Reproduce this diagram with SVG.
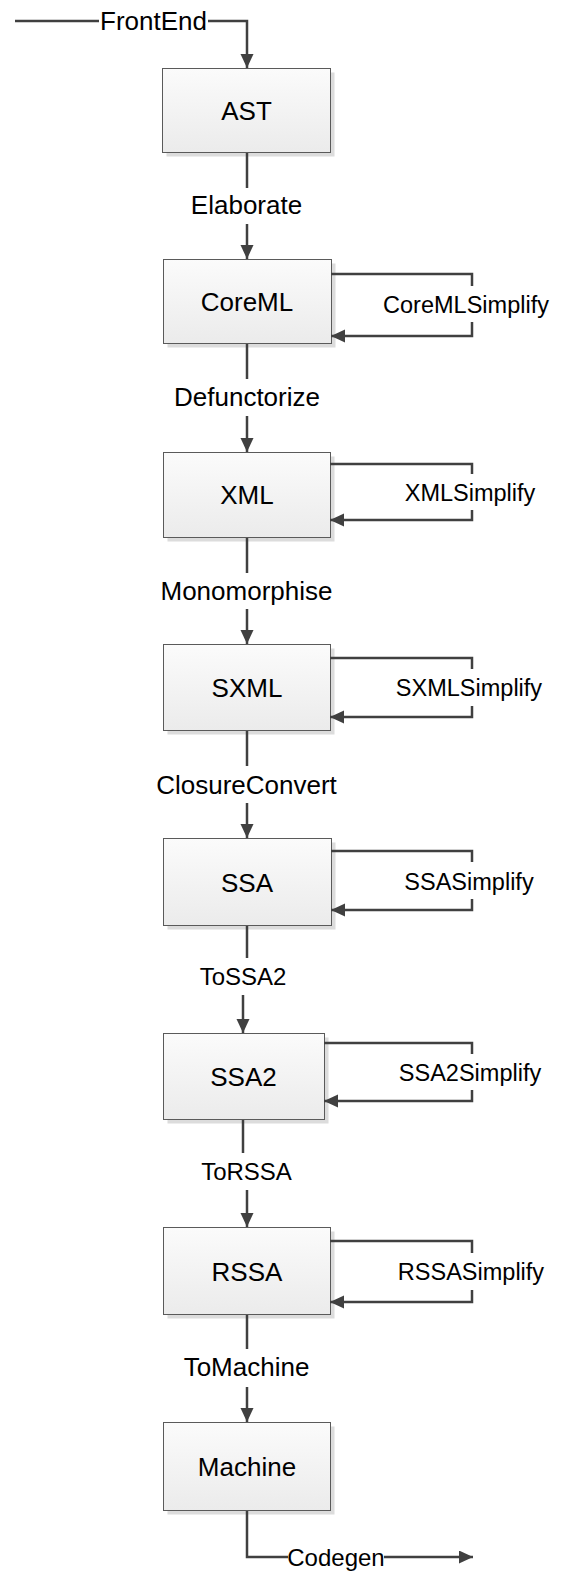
<svg xmlns="http://www.w3.org/2000/svg" width="561" height="1573" viewBox="0 0 561 1573">
<style>
  .box { fill: url(#boxfill); stroke: #5a5a5a; stroke-width: 1; }
  .shadow { fill: #dcdcdc; }
  .lbl { font-family: "Liberation Sans", Arial, sans-serif; font-size: 26px; fill: #000; text-anchor: middle; }
  .sm { font-size: 24px; }
  .loop { font-family: "Liberation Sans", Arial, sans-serif; font-size: 23.5px; fill: #000; text-anchor: middle; }
  .edge { fill: none; stroke: #404040; stroke-width: 2.5; }
  .arr { fill: none; stroke: #404040; stroke-width: 2.5; marker-end: url(#ah); }
</style>
<defs>
  <linearGradient id="boxfill" x1="0" y1="0" x2="0" y2="1">
    <stop offset="0" stop-color="#fbfbfb"/>
    <stop offset="1" stop-color="#ebebeb"/>
  </linearGradient>
  <marker id="ah" markerUnits="userSpaceOnUse" markerWidth="16" markerHeight="16" refX="14" refY="6.5" orient="auto">
    <path d="M0,0 L14,6.5 L0,13 z" fill="#404040"/>
  </marker>
</defs>
<rect width="561" height="1573" fill="#fff"/>

<g id="AST">
  <rect class="shadow" x="166.5" y="72.5" width="168" height="84"/>
  <rect class="box" x="162.5" y="68.5" width="168" height="84"/>
  <text class="lbl" x="246.5" y="120">AST</text>
</g>
<g id="CoreML">
  <rect class="shadow" x="167.5" y="263.5" width="168" height="84"/>
  <rect class="box" x="163.5" y="259.5" width="168" height="84"/>
  <text class="lbl" x="247" y="311">CoreML</text>
</g>
<g id="XML">
  <rect class="shadow" x="167.5" y="456.5" width="167" height="85"/>
  <rect class="box" x="163.5" y="452.5" width="167" height="85"/>
  <text class="lbl" x="247" y="504">XML</text>
</g>
<g id="SXML">
  <rect class="shadow" x="167.5" y="648.5" width="167" height="86"/>
  <rect class="box" x="163.5" y="644.5" width="167" height="86"/>
  <text class="lbl" x="247" y="697">SXML</text>
</g>
<g id="SSA">
  <rect class="shadow" x="167.5" y="842.5" width="168" height="87"/>
  <rect class="box" x="163.5" y="838.5" width="168" height="87"/>
  <text class="lbl" x="247" y="892">SSA</text>
</g>
<g id="SSA2">
  <rect class="shadow" x="167.5" y="1037.5" width="161" height="86"/>
  <rect class="box" x="163.5" y="1033.5" width="161" height="86"/>
  <text class="lbl" x="243.5" y="1086">SSA2</text>
</g>
<g id="RSSA">
  <rect class="shadow" x="167.5" y="1231.5" width="167" height="87"/>
  <rect class="box" x="163.5" y="1227.5" width="167" height="87"/>
  <text class="lbl" x="247" y="1281">RSSA</text>
</g>
<g id="Machine">
  <rect class="shadow" x="167.5" y="1426.5" width="167" height="88"/>
  <rect class="box" x="163.5" y="1422.5" width="167" height="88"/>
  <text class="lbl" x="247" y="1476">Machine</text>
</g>

<g id="connectors">
  <!-- FrontEnd -->
  <path class="edge" d="M15,21 H99"/>
  <path class="arr" d="M208,21 H247 V68"/>
  <text class="lbl" x="153.5" y="30">FrontEnd</text>
  <!-- Elaborate -->
  <path class="edge" d="M247,153 V188"/>
  <path class="arr" d="M247,224 V259"/>
  <text class="lbl" x="246.5" y="214">Elaborate</text>
  <!-- Defunctorize -->
  <path class="edge" d="M247,344 V379"/>
  <path class="arr" d="M247,416 V452"/>
  <text class="lbl" x="247" y="406">Defunctorize</text>
  <!-- Monomorphise -->
  <path class="edge" d="M247,538 V573"/>
  <path class="arr" d="M247,609 V644"/>
  <text class="lbl" x="246.5" y="600">Monomorphise</text>
  <!-- ClosureConvert -->
  <path class="edge" d="M247,731 V766"/>
  <path class="arr" d="M247,803 V838"/>
  <text class="lbl" x="246.5" y="794">ClosureConvert</text>
  <!-- ToSSA2 -->
  <path class="edge" d="M247,926 V958"/>
  <path class="arr" d="M243,995 V1033"/>
  <text class="lbl sm" x="243" y="985">ToSSA2</text>
  <!-- ToRSSA -->
  <path class="edge" d="M243,1120 V1153"/>
  <path class="arr" d="M247,1190 V1227"/>
  <text class="lbl sm" x="246.5" y="1180">ToRSSA</text>
  <!-- ToMachine -->
  <path class="edge" d="M247,1315 V1349"/>
  <path class="arr" d="M247,1387 V1422"/>
  <text class="lbl" x="246.5" y="1376">ToMachine</text>
  <!-- Codegen -->
  <path class="edge" d="M247,1511 V1557 H288"/>
  <path class="arr" d="M384,1557 H473"/>
  <text class="lbl sm" x="336" y="1566">Codegen</text>

  <!-- CoreMLSimplify -->
  <path class="edge" d="M331,274 H472 V286"/>
  <path class="arr" d="M472,322 V336 H331"/>
  <text class="loop" x="466" y="313">CoreMLSimplify</text>
  <!-- XMLSimplify -->
  <path class="edge" d="M330,464 H472 V474"/>
  <path class="arr" d="M472,510 V520 H330"/>
  <text class="loop" x="470" y="501">XMLSimplify</text>
  <!-- SXMLSimplify -->
  <path class="edge" d="M330,658 H472 V669"/>
  <path class="arr" d="M472,706 V717 H330"/>
  <text class="loop" x="469" y="696">SXMLSimplify</text>
  <!-- SSASimplify -->
  <path class="edge" d="M331,851 H472 V862"/>
  <path class="arr" d="M472,899 V910 H331"/>
  <text class="loop" x="469" y="890">SSASimplify</text>
  <!-- SSA2Simplify -->
  <path class="edge" d="M324,1043 H472 V1054"/>
  <path class="arr" d="M472,1090 V1101 H324"/>
  <text class="loop" x="470" y="1081">SSA2Simplify</text>
  <!-- RSSASimplify -->
  <path class="edge" d="M330,1241 H472 V1253"/>
  <path class="arr" d="M472,1290 V1302 H330"/>
  <text class="loop" x="471" y="1280">RSSASimplify</text>
</g>
</svg>
